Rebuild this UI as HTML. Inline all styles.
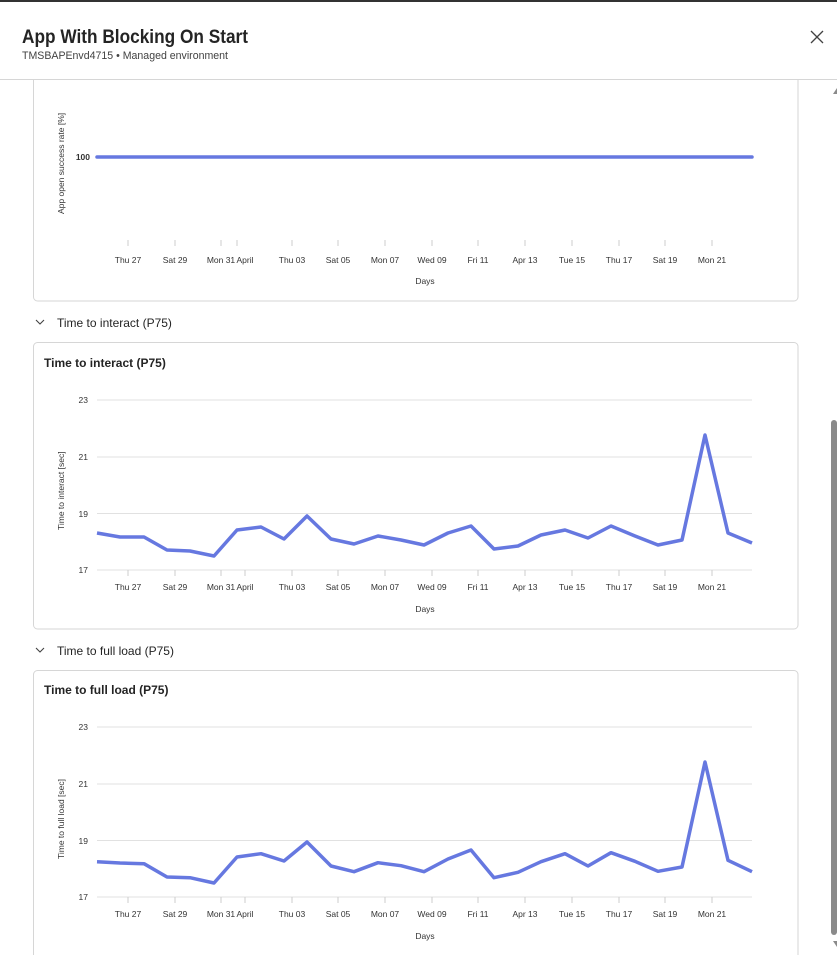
<!DOCTYPE html>
<html><head><meta charset="utf-8"><style>
html,body{margin:0;padding:0;background:#fff;}
svg{display:block;font-family:"Liberation Sans",sans-serif;}
</style></head><body>
<svg width="837" height="955" viewBox="0 0 837 955">
<rect width="837" height="955" fill="#fff"/>
<rect x="0" y="0" width="837" height="2" fill="#333"/>
<text x="22" y="43" font-size="19" font-weight="bold" fill="#242424" textLength="226" lengthAdjust="spacingAndGlyphs">App With Blocking On Start</text>
<text x="22" y="59" font-size="11" fill="#424242" textLength="206" lengthAdjust="spacingAndGlyphs">TMSBAPEnvd4715 • Managed environment</text>
<path d="M811 31 L823 43 M823 31 L811 43" stroke="#424242" stroke-width="1.3"/>
<line x1="0" y1="79.5" x2="837" y2="79.5" stroke="#d6d6d6"/>
<rect x="831" y="420" width="6" height="515" rx="3" fill="#8a8a8a"/>
<path d="M833 94 L837 88 L837 94Z" fill="#8a8a8a"/>
<path d="M833 941 L837 947 L837 941Z" fill="#8a8a8a"/>
<path d="M33.5 80 V297 a4 4 0 0 0 4 4 H794 a4 4 0 0 0 4 -4 V80" fill="none" stroke="#d6d6d6"/>
<text transform="translate(64,214) rotate(-90)" font-size="8.5" fill="#333">App open success rate [%]</text>
<text x="90" y="160" font-size="8.5" text-anchor="end" fill="#333" font-weight="bold">100</text>
<line x1="97" y1="157" x2="752" y2="157" stroke="#6678e0" stroke-width="3.5" stroke-linecap="round"/>
<text x="425" y="284" font-size="8.5" fill="#333" text-anchor="middle">Days</text>
<path d="M36 320 l4 4 l4 -4" fill="none" stroke="#424242" stroke-width="1.1"/>
<text x="57" y="327" font-size="12" fill="#242424">Time to interact (P75)</text>
<rect x="33.5" y="342.5" width="764.5" height="286.5" rx="4" fill="none" stroke="#d6d6d6"/>
<text x="44" y="367" font-size="12" font-weight="bold" fill="#242424">Time to interact (P75)</text>
<g stroke="#e1e1e1"><line x1="97" y1="400" x2="752" y2="400"/><line x1="97" y1="457" x2="752" y2="457"/><line x1="97" y1="513.5" x2="752" y2="513.5"/><line x1="97" y1="570" x2="752" y2="570"/></g>
<g font-size="8.5" fill="#333" text-anchor="end"><text x="88" y="403">23</text><text x="88" y="460">21</text><text x="88" y="517">19</text><text x="88" y="573">17</text></g>
<text transform="translate(64,530) rotate(-90)" font-size="8.5" fill="#333">Time to interact [sec]</text>
<polyline fill="none" stroke="#6678e0" stroke-width="3.5" stroke-linejoin="round" points="97,533 120,537 144,537 167,550 190,551 214,556 237,530 261,527 284,539 307,516 331,539 354,544 378,536 401,540 424,545 448,533 471,526 494,549 518,546 541,535 565,530 588,538 611,526 635,536 658,545 682,540 705,435 728,533 752,543"/>
<text x="425" y="612" font-size="8.5" fill="#333" text-anchor="middle">Days</text>
<path d="M36 648 l4 4 l4 -4" fill="none" stroke="#424242" stroke-width="1.1"/>
<text x="57" y="655" font-size="12" fill="#242424">Time to full load (P75)</text>
<path d="M33.5 955 V674.5 a4 4 0 0 1 4 -4 H794 a4 4 0 0 1 4 4 V955" fill="none" stroke="#d6d6d6"/>
<text x="44" y="694" font-size="12" font-weight="bold" fill="#242424">Time to full load (P75)</text>
<g stroke="#e1e1e1"><line x1="97" y1="727" x2="752" y2="727"/><line x1="97" y1="784" x2="752" y2="784"/><line x1="97" y1="840.5" x2="752" y2="840.5"/><line x1="97" y1="897" x2="752" y2="897"/></g>
<g font-size="8.5" fill="#333" text-anchor="end"><text x="88" y="730">23</text><text x="88" y="787">21</text><text x="88" y="844">19</text><text x="88" y="900">17</text></g>
<text transform="translate(64,859) rotate(-90)" font-size="8.5" fill="#333">Time to full load [sec]</text>
<polyline fill="none" stroke="#6678e0" stroke-width="3.5" stroke-linejoin="round" points="97,861.7 120,863 144,863.7 167,877 190,877.7 214,883 237,857 261,853.7 284,861 307,842 331,866 354,871.7 378,862.7 401,865.7 424,871.7 448,859 471,850 494,877.7 518,872.3 541,861.7 565,853.7 588,866 611,852.7 635,861.3 658,871.3 682,867 705,762 728,860.3 752,871.7"/>
<text x="425" y="939" font-size="8.5" fill="#333" text-anchor="middle">Days</text>

<g stroke="#ccc">
<line x1="128" y1="240" x2="128" y2="246"/><line x1="175" y1="240" x2="175" y2="246"/><line x1="221" y1="240" x2="221" y2="246"/><line x1="237" y1="240" x2="237" y2="246"/><line x1="292" y1="240" x2="292" y2="246"/><line x1="338" y1="240" x2="338" y2="246"/><line x1="385" y1="240" x2="385" y2="246"/><line x1="432" y1="240" x2="432" y2="246"/><line x1="478" y1="240" x2="478" y2="246"/><line x1="525" y1="240" x2="525" y2="246"/><line x1="572" y1="240" x2="572" y2="246"/><line x1="619" y1="240" x2="619" y2="246"/><line x1="665" y1="240" x2="665" y2="246"/><line x1="712" y1="240" x2="712" y2="246"/>
</g>
<g font-size="8.5" fill="#333" text-anchor="middle">
<text x="128" y="263">Thu 27</text><text x="175" y="263">Sat 29</text><text x="221" y="263">Mon 31</text><text x="245" y="263">April</text><text x="292" y="263">Thu 03</text><text x="338" y="263">Sat 05</text><text x="385" y="263">Mon 07</text><text x="432" y="263">Wed 09</text><text x="478" y="263">Fri 11</text><text x="525" y="263">Apr 13</text><text x="572" y="263">Tue 15</text><text x="619" y="263">Thu 17</text><text x="665" y="263">Sat 19</text><text x="712" y="263">Mon 21</text>
</g>
<g stroke="#ccc">
<line x1="128" y1="570" x2="128" y2="576"/><line x1="175" y1="570" x2="175" y2="576"/><line x1="221" y1="570" x2="221" y2="576"/><line x1="245" y1="570" x2="245" y2="576"/><line x1="292" y1="570" x2="292" y2="576"/><line x1="338" y1="570" x2="338" y2="576"/><line x1="385" y1="570" x2="385" y2="576"/><line x1="432" y1="570" x2="432" y2="576"/><line x1="478" y1="570" x2="478" y2="576"/><line x1="525" y1="570" x2="525" y2="576"/><line x1="572" y1="570" x2="572" y2="576"/><line x1="619" y1="570" x2="619" y2="576"/><line x1="665" y1="570" x2="665" y2="576"/><line x1="712" y1="570" x2="712" y2="576"/>
</g>
<g font-size="8.5" fill="#333" text-anchor="middle">
<text x="128" y="590">Thu 27</text><text x="175" y="590">Sat 29</text><text x="221" y="590">Mon 31</text><text x="245" y="590">April</text><text x="292" y="590">Thu 03</text><text x="338" y="590">Sat 05</text><text x="385" y="590">Mon 07</text><text x="432" y="590">Wed 09</text><text x="478" y="590">Fri 11</text><text x="525" y="590">Apr 13</text><text x="572" y="590">Tue 15</text><text x="619" y="590">Thu 17</text><text x="665" y="590">Sat 19</text><text x="712" y="590">Mon 21</text>
</g>
<g stroke="#ccc">
<line x1="128" y1="897" x2="128" y2="903"/><line x1="175" y1="897" x2="175" y2="903"/><line x1="221" y1="897" x2="221" y2="903"/><line x1="245" y1="897" x2="245" y2="903"/><line x1="292" y1="897" x2="292" y2="903"/><line x1="338" y1="897" x2="338" y2="903"/><line x1="385" y1="897" x2="385" y2="903"/><line x1="432" y1="897" x2="432" y2="903"/><line x1="478" y1="897" x2="478" y2="903"/><line x1="525" y1="897" x2="525" y2="903"/><line x1="572" y1="897" x2="572" y2="903"/><line x1="619" y1="897" x2="619" y2="903"/><line x1="665" y1="897" x2="665" y2="903"/><line x1="712" y1="897" x2="712" y2="903"/>
</g>
<g font-size="8.5" fill="#333" text-anchor="middle">
<text x="128" y="917">Thu 27</text><text x="175" y="917">Sat 29</text><text x="221" y="917">Mon 31</text><text x="245" y="917">April</text><text x="292" y="917">Thu 03</text><text x="338" y="917">Sat 05</text><text x="385" y="917">Mon 07</text><text x="432" y="917">Wed 09</text><text x="478" y="917">Fri 11</text><text x="525" y="917">Apr 13</text><text x="572" y="917">Tue 15</text><text x="619" y="917">Thu 17</text><text x="665" y="917">Sat 19</text><text x="712" y="917">Mon 21</text>
</g>
</svg>
</body></html>
